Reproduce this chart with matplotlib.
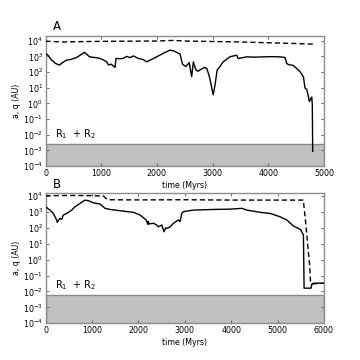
import numpy as np
import matplotlib
matplotlib.use("Agg")
import matplotlib.pyplot as plt
from matplotlib.ticker import LogLocator, NullLocator, LogFormatterMathtext

# ---------------- data (log10 of AU) ----------------
# Panel A: pericentre q (solid)
tA_q = [0, 50, 100, 180, 250, 310, 380, 450, 560, 700, 720, 790, 900, 980, 1050, 1100, 1130,
        1180, 1248, 1266, 1330, 1397, 1457, 1520, 1577, 1667, 1750, 1817, 1900, 1996, 2115,
        2235, 2300, 2415, 2460, 2520, 2580, 2624, 2654, 2700, 2740, 2780, 2857, 2900, 2950,
        3010, 3040, 3082, 3130, 3190, 3310, 3430, 3460, 3610, 3750, 3910, 4060, 4210, 4300,
        4330, 4360, 4450, 4570, 4630, 4660, 4690, 4720, 4737, 4762, 4780, 4790, 4797]
qA = [3.19, 3.05, 2.8, 2.55, 2.44, 2.62, 2.76, 2.8, 2.93, 3.26, 3.2, 2.97, 2.92, 2.87, 2.75,
      2.65, 2.45, 2.5, 2.3, 2.87, 2.85, 2.87, 3.0, 2.92, 3.03, 2.87, 2.8, 2.65, 2.8, 2.97, 3.2,
      3.4, 3.35, 3.15, 2.5, 2.35, 2.6, 1.7, 2.65, 2.13, 2.05, 2.15, 2.3, 2.2, 1.6, 0.55, 1.1,
      2.13, 2.34, 2.65, 2.97, 3.08, 2.86, 2.97, 2.95, 2.97, 2.98, 2.97, 2.93, 2.55, 2.48, 2.42,
      2.02, 1.7, 0.97, 0.9, 0.43, 0.11, 0.3, 0.4, -0.1, -3.06]
# Panel A: semi-major axis a (dashed)
tA_a = [0, 300, 600, 1000, 1500, 2000, 2300, 2500, 3000, 3500, 4000, 4500, 4800]
aA = [3.97, 3.92, 3.94, 3.96, 3.97, 3.98, 4.02, 3.98, 3.95, 3.92, 3.87, 3.82, 3.78]

# Panel B: pericentre q (solid)
tB_q = [0, 97, 168, 241, 254, 312, 349, 384, 457, 565, 636, 744, 851, 923, 1030, 1175, 1282,
        1390, 1606, 1893, 2037, 2170, 2205, 2215, 2230, 2323, 2397, 2431, 2504, 2554, 2590,
        2612, 2680, 2755, 2862, 2899, 2935, 2970, 3185, 3616, 3976, 4228, 4336, 4623, 4838,
        5054, 5198, 5341, 5449, 5500, 5557, 5571, 5720, 5740, 5770, 6000]
qB = [3.33, 3.12, 2.91, 2.5, 2.35, 2.6, 2.54, 2.81, 2.91, 3.12, 3.33, 3.54, 3.75, 3.71, 3.58,
      3.5, 3.23, 3.16, 3.08, 2.98, 2.81, 2.5, 2.22, 2.4, 2.25, 2.29, 2.18, 2.07, 2.18, 1.76,
      2.0, 1.97, 2.05, 2.29, 2.5, 2.39, 2.91, 3.02, 3.12, 3.16, 3.18, 3.23, 3.12, 2.98, 2.91,
      2.7, 2.5, 2.12, 1.97, 1.87, 1.55, -1.79, -1.79, -1.52, -1.48, -1.48]
# Panel B: semi-major axis a (dashed)
tB_a = [0, 500, 1000, 1250, 1320, 1400, 2000, 3000, 4000, 5000, 5557, 5570, 5600, 5630, 5660,
        5690, 5710, 5730, 6000]
aB = [4.02, 4.04, 4.03, 4.0, 3.8, 3.77, 3.76, 3.77, 3.75, 3.75, 3.75, 3.3, 2.5, 1.55, 0.6,
      -0.3, -1.4, -1.52, -1.48]

# collision radius R1 + R2 (AU)
rcollA = 2.4e-3
rcollB = 6.0e-3

panel_labels = ["A", "B"]
xmax = [5000, 6000]
ytop = [2.0e4, 1.5e4]
xlabel = "time (Myrs)"
ylabel = "a, q (AU)"
rtext = r"R$_1$  + R$_2$"

fig = plt.figure(figsize=(3.6, 3.6), dpi=100)
W, H = 360.0, 360.0
axA = fig.add_axes([45.5 / W, 1 - 166 / H, 278.5 / W, 130 / H])
axB = fig.add_axes([45.5 / W, 1 - 323.3 / H, 278.5 / W, 130 / H])

spine_col = "#8c8c8c"
fs = 5.7

panels = [
    (axA, tA_q, qA, tA_a, aA, rcollA),
    (axB, tB_q, qB, tB_a, aB, rcollB),
]
for i, (ax, tq, q, ta, a, rc) in enumerate(panels):
    ax.set_yscale("log")
    ax.axhspan(1e-5, rc, facecolor="#c0c0c0", edgecolor="#8a8a8a", linewidth=1.0, zorder=1)
    ax.plot(tq, 10 ** np.array(q), color="black", lw=1.0, zorder=3)
    ax.plot(ta, 10 ** np.array(a), color="black", lw=1.0, ls=(0, (3.7, 2.2)), zorder=3)
    ax.set_xlim(0, xmax[i])
    ax.set_ylim(1e-4, ytop[i])
    ax.set_xticks(np.arange(0, xmax[i] + 1, 1000))
    ax.yaxis.set_major_locator(LogLocator(base=10, numticks=20))
    ax.yaxis.set_major_formatter(LogFormatterMathtext())
    ax.yaxis.set_minor_locator(NullLocator())
    ax.tick_params(direction="in", top=True, right=True, length=2.5, width=0.6,
                   labelsize=fs, pad=2, color="#555555")
    for s in ax.spines.values():
        s.set_color(spine_col)
        s.set_linewidth(1.0)
    ax.set_xlabel(xlabel, fontsize=fs, labelpad=2)
    ax.set_ylabel(ylabel, fontsize=fs, labelpad=1)
    ax.text(0.027, 1.02, panel_labels[i], transform=ax.transAxes, fontsize=8.5,
            ha="left", va="bottom")
    ax.text(0.035, rc * 1.6, rtext, transform=ax.get_yaxis_transform(), fontsize=7,
            ha="left", va="bottom")

fig.savefig("out.png", dpi=100)
